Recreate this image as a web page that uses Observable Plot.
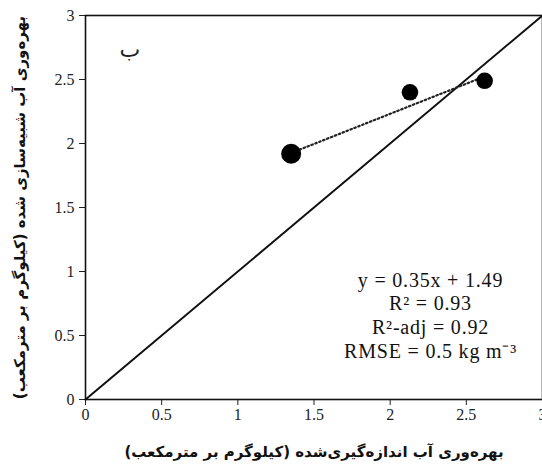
<!DOCTYPE html>
<html>
<head>
<meta charset="utf-8">
<script src="https://cdn.jsdelivr.net/npm/d3@7"></script>
<script src="https://cdn.jsdelivr.net/npm/@observablehq/plot@0.6"></script>
<style>
  html, body { margin: 0; padding: 0; background: #fff; }
  svg { display: block; }
</style>
</head>
<body>
<div id="chart"></div>
<script>
// Measured vs simulated water productivity (kg per cubic metre)
const measured = [1.35, 2.13, 2.62];
const simulated = [1.92, 2.40, 2.49];

// Dotted trend segment across the observed range
const trendX = [1.38, 2.57];
const trendY = [1.94, 2.50];

// 1:1 reference line
const oneToOneX = [0, 3];
const oneToOneY = [0, 3];

const xTicks = [0, 0.5, 1, 1.5, 2, 2.5, 3];
const yTicks = [0, 0.5, 1, 1.5, 2, 2.5, 3];

const xTitle = "بهره‌وری آب اندازه‌گیری‌شده (کیلوگرم بر مترمکعب)";
const yTitle = "بهره‌وری آب شبیه‌سازی شده (کیلوگرم بر مترمکعب)";
const panelLetter = "ب";
const statsLines = ["y = 0.35x + 1.49", "R² = 0.93", "R²-adj = 0.92", "RMSE = 0.5 kg m⁻³"];

const points = measured.map((x, i) => ({x, y: simulated[i]}));
const trend = trendX.map((x, i) => ({x, y: trendY[i]}));
const diag = oneToOneX.map((x, i) => ({x, y: oneToOneY[i]}));

const serif = "'Liberation Serif', 'Times New Roman', serif";
const persian = "'DejaVu Sans', sans-serif";

const chart = Plot.plot({
  width: 542,
  height: 472,
  marginLeft: 85,
  marginRight: 0,
  marginTop: 15,
  marginBottom: 73,
  style: {fontFamily: serif, fontSize: "16px", color: "#222", background: "#fff", overflow: "visible"},
  x: {domain: [0, 3]},
  y: {domain: [0, 3]},
  r: {type: "identity"},
  marks: [
    Plot.axisX({ticks: xTicks, tickFormat: d => String(d), tickSize: 6, tickPadding: 3, label: null, fontSize: 16}),
    Plot.axisY({ticks: yTicks, tickFormat: d => String(d), tickSize: 6, tickPadding: 5, label: null, fontSize: 16}),
    Plot.frame({stroke: "#111", strokeWidth: 1.6}),
    Plot.line(diag, {x: "x", y: "y", stroke: "#111", strokeWidth: 2}),
    Plot.line(trend, {x: "x", y: "y", stroke: "#222", strokeWidth: 2.2, strokeDasharray: "1.6,2.6"}),
    Plot.dot(points, {x: "x", y: "y", fill: "#000", stroke: "none", r: (d, i) => i === 0 ? 10 : 8.3}),
    Plot.text([panelLetter], {
      text: d => d, frameAnchor: "top-left", dx: 34, dy: 26,
      fontFamily: persian, fontSize: 22, fill: "#222"
    }),
    Plot.text([statsLines.join("\n")], {
      text: d => d, frameAnchor: "bottom-right", dx: -112, dy: -42,
      textAnchor: "middle", lineAnchor: "bottom", lineHeight: 1.18,
      fontFamily: serif, fontSize: 20, fill: "#111"
    }),
    Plot.text([xTitle], {
      text: d => d, frameAnchor: "bottom", dy: 57,
      textAnchor: "middle", fontFamily: persian, fontWeight: "bold", fontSize: 15, fill: "#111"
    }),
    Plot.text([yTitle], {
      text: d => d, frameAnchor: "left", dx: -65, rotate: -90,
      textAnchor: "middle", fontFamily: persian, fontWeight: "bold", fontSize: 15, fill: "#111"
    })
  ]
});

// Slightly open up the statistics block
d3.select(chart).selectAll("g[aria-label='text']").filter((d, i) => i === 1)
  .style("letter-spacing", "0.8px");

document.getElementById("chart").append(chart);
</script>
</body>
</html>
